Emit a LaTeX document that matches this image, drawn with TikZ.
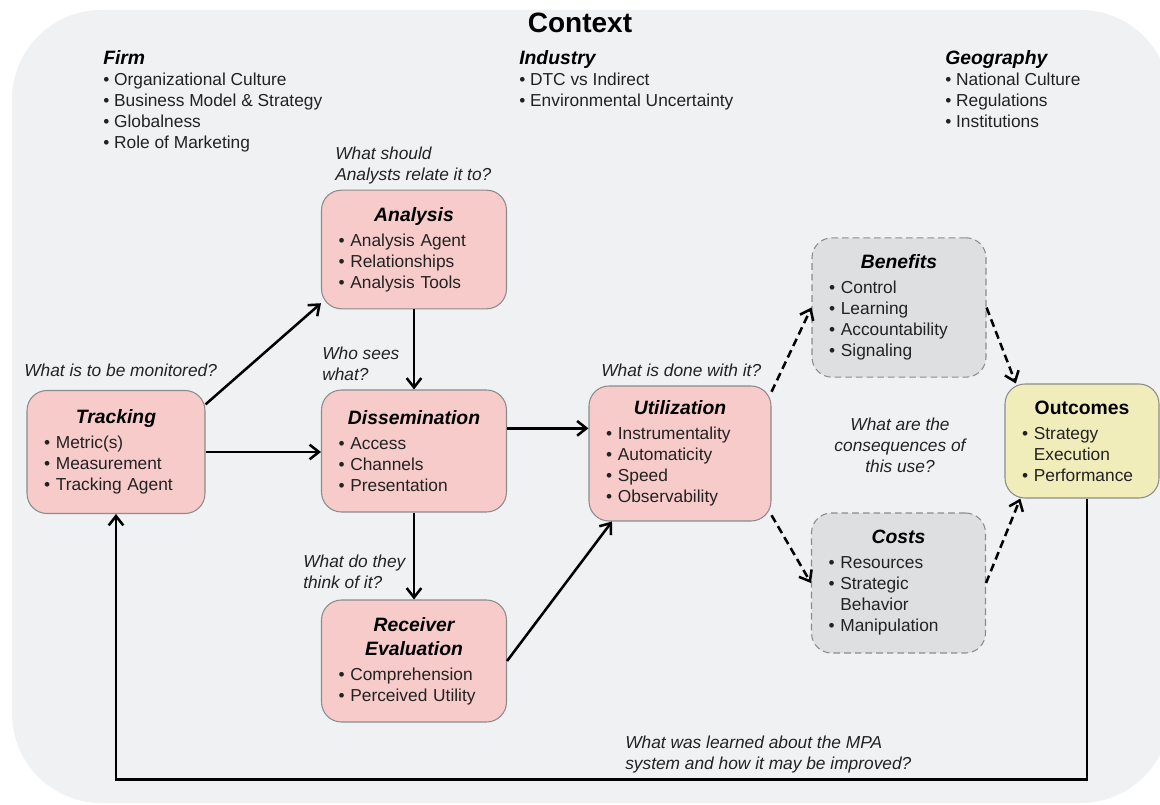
\documentclass[tikz,border=0pt]{standalone}
\usepackage{fontspec}
\setmainfont{Liberation Sans}
\usetikzlibrary{arrows.meta}

\definecolor{ctxbg}{RGB}{240,241,243}
\definecolor{boxpink}{RGB}{246,203,202}
\definecolor{boxgray}{RGB}{222,223,225}
\definecolor{boxyellow}{RGB}{241,237,186}
\definecolor{boxline}{RGB}{140,140,140}
\definecolor{txt}{RGB}{34,34,34}

\newcommand{\bodyfont}{\fontsize{13}{15.75}\selectfont}
\newcommand{\boxhead}[2][\bfseries\itshape]{{\centering\fontsize{14.5}{18}\selectfont\color{black}#1#2\par}\vspace{3pt}}
\newcommand{\ctxhead}[1]{{\fontsize{14.5}{18}\selectfont\color{black}\bfseries\itshape#1}}
\newcommand{\bul}{\textbullet\ }

\begin{document}
\begin{tikzpicture}[x=0.75pt,y=-0.75pt,
    stage/.style={draw=boxline, line width=0.8pt, rounded corners=15pt, fill=boxpink, text=txt, font=\bodyfont, align=left, inner xsep=12.75pt, inner ysep=0pt},
    effect/.style={stage, fill=boxgray, dash pattern=on 5pt off 3pt},
    result/.style={stage, fill=boxyellow},
    flow/.style={line width=1.9pt, -{Straight Barb[length=7pt,width=11pt]}},
    maybe/.style={flow, dash pattern=on 6pt off 3.5pt},
    question/.style={font=\bodyfont\itshape, text=txt, align=left, inner sep=0pt},
    ctxlist/.style={font=\bodyfont, text=txt, align=left, inner sep=0pt, anchor=north west}]

    \useasboundingbox (0,0) rectangle (1160,805);
    \fill[ctxbg, rounded corners=67pt] (12,10) rectangle (1170,803);

    % context
    \node[font=\fontsize{21}{24}\selectfont\bfseries] (ctx) at (580,23) {Context};
    \node[ctxlist] (firm) at (103,50) {\ctxhead{Firm}\\ \bul Organizational Culture\\ \bul Business Model \& Strategy\\ \bul Globalness\\ \bul Role of Marketing};
    \node[ctxlist] (ind) at (519,50) {\ctxhead{Industry}\\ \bul DTC vs Indirect\\ \bul Environmental Uncertainty};
    \node[ctxlist] (geo) at (945,50) {\ctxhead{Geography}\\ \bul National Culture\\ \bul Regulations\\ \bul Institutions};

    % stages
    \node[stage, text width=108pt, minimum height=92.25pt] (trk) at (116,452) {\boxhead{Tracking}\bul Metric(s)\\ \bul Measurement\\ \bul Tracking Agent};
    \node[stage, text width=113.25pt, minimum height=89pt] (ana) at (414,249.5) {\boxhead{Analysis}\bul Analysis Agent\\ \bul Relationships\\ \bul Analysis Tools};
    \node[stage, text width=113.25pt, minimum height=91.5pt] (dis) at (414,451) {\boxhead{Dissemination}\bul Access\\ \bul Channels\\ \bul Presentation};
    \node[stage, text width=113.25pt, minimum height=91.5pt] (rec) at (414,661) {\boxhead{Receiver\\Evaluation}\bul Comprehension\\ \bul Perceived Utility};
    \node[stage, text width=111pt, minimum height=101.25pt] (uti) at (680,453.5) {\boxhead{Utilization}\bul Instrumentality\\ \bul Automaticity\\ \bul Speed\\ \bul Observability};
    \node[effect, text width=105pt, minimum height=104.5pt] (ben) at (899,307.5) {\boxhead{Benefits}\bul Control\\ \bul Learning\\ \bul Accountability\\ \bul Signaling};
    \node[effect, text width=105pt, minimum height=105pt] (cst) at (898.5,583) {\boxhead{Costs}\bul Resources\\ \bul Strategic\\ \hphantom{\bul}Behavior\\ \bul Manipulation};
    \node[result, text width=90pt, minimum height=85.5pt] (out) at (1082,441) {\boxhead[\bfseries]{Outcomes}\bul Strategy\\ \hphantom{\bul}Execution\\ \bul Performance};

    % questions
    \node[question, anchor=west] (q1) at (24,370) {What is to be monitored?};
    \node[question, anchor=north west] (q2) at (335,146.5) {What should\\Analysts relate it to?};
    \node[question, anchor=north west] (q3) at (322,346.5) {Who sees\\what?};
    \node[question, anchor=west] (q4) at (601,370) {What is done with it?};
    \node[question, anchor=north west] (q5) at (303,554.5) {What do they\\think of it?};
    \node[question, anchor=north, align=center] (q6) at (900,417.5) {What are the\\consequences of\\this use?};
    \node[question, anchor=north west] (q7) at (625,735.5) {What was learned about the MPA\\system and how it may be improved?};

    % connectors
    \draw[flow] (trk.28.6) -- (ana.210);
    \draw[flow] (trk.east) -- (trk.east -| dis.west);
    \draw[flow] (ana.south) -- (dis.north);
    \draw[flow] (dis.south) -- (rec.north);
    \draw[flow] ([yshift=17pt]dis.east) -- ([yshift=17pt]dis.east -| uti.west);
    \draw[flow] (rec.east) -- (uti.225.6);
    \draw[maybe] (uti.34) -- (ben.west);
    \draw[maybe] (uti.-34) -- (cst.west);
    \draw[maybe] (ben.east) -- (out.139);
    \draw[maybe] (cst.east) -- (out.223);
    \draw[flow] ([xshift=3.75pt]out.south) -- ++(0,281) -| (trk.south);
\end{tikzpicture}
\end{document}
